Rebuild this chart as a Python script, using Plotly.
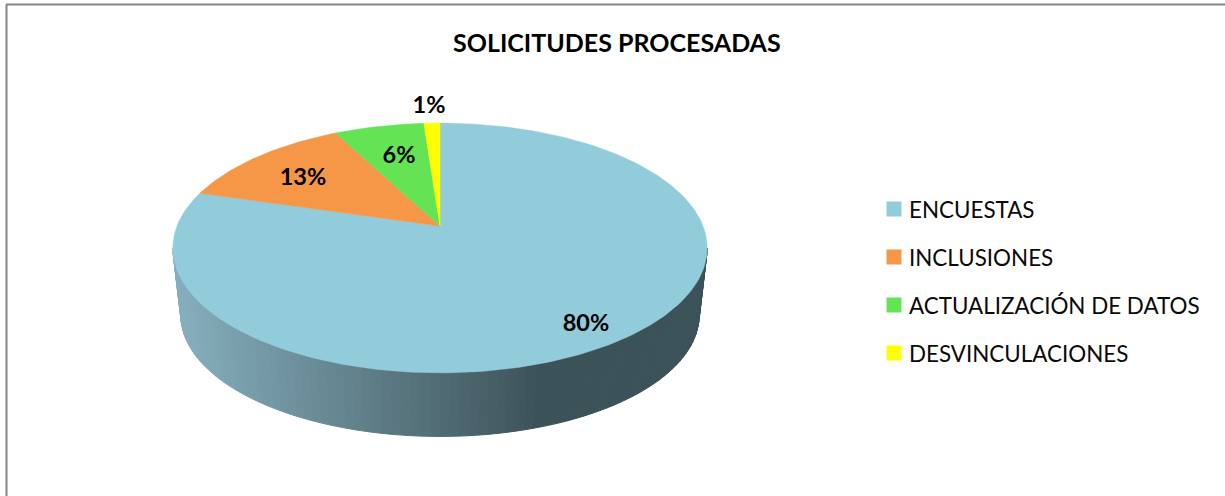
import numpy as np
import plotly.graph_objects as go

categories = ["ENCUESTAS", "INCLUSIONES", "ACTUALIZACIÓN DE DATOS", "DESVINCULACIONES"]
values = [79.6, 12.8, 6.45, 1.15]
colors = ["#92CBDA", "#F59747", "#64E455", "#FFFF00"]
title = "SOLICITUDES PROCESADAS"

# Layout / projection parameters (pixel space)
CX, CY = 440, 226
A, B, K = 263, 121, 0.176
DEPTH, RIM = 68, 0.97
FONT = "Lato"
label_pos = [(586, 325), (303, 179), (399, 157), (429, 107)]
legend_y = [209, 257, 305, 353]
legend_x, legend_tx = 894, 908
side_light, side_dark = (135, 176, 190), (60, 82, 89)
side_x0, side_x1 = 175, 540


def project(t, scale=1.0, dy=0.0):
    u, v = np.sin(t), np.cos(t)
    d = 1 + K * v
    return CX + scale * A * u / d, CY + dy + scale * B * v * -1 / d


fig = go.Figure()

# Side wall, built as narrow strips that darken left to right
t0 = np.arccos(-K)
edges = np.linspace(2 * np.pi - t0, t0, 91)
for a, b in zip(edges[:-1], edges[1:]):
    ts = np.linspace(a, b, 4)
    x1, y1 = project(ts)
    x2, y2 = project(ts[::-1], RIM, DEPTH)
    xm = (x1.mean() + x2.mean()) / 2
    f = float(np.clip((xm - side_x0) / (side_x1 - side_x0), 0, 1))
    r, g, bl = [int(round(p + (q - p) * f)) for p, q in zip(side_light, side_dark)]
    col = f"rgb({r},{g},{bl})"
    fig.add_trace(go.Scatter(
        x=np.r_[x1, x2, x1[0]], y=np.r_[y1, y2, y1[0]], mode="lines", fill="toself",
        fillcolor=col, line=dict(color=col, width=1), hoverinfo="skip", showlegend=False))

# Top face slices from the values
total = sum(values)
start = 0.0
for name, val, col in zip(categories, values, colors):
    end = start + val / total * 2 * np.pi
    ts = np.linspace(start, end, max(6, int(val * 4)))
    x, y = project(ts)
    fig.add_trace(go.Scatter(
        x=np.r_[CX, x, CX], y=np.r_[CY, y, CY], mode="lines", fill="toself",
        fillcolor=col, line=dict(color=col, width=0.5), name=name,
        hovertemplate=f"{name}: {val / total:.0%}<extra></extra>", showlegend=False))
    start = end

# Data labels
fig.add_trace(go.Scatter(
    x=[p[0] for p in label_pos], y=[p[1] for p in label_pos], mode="text",
    text=[f"{round(v / total * 100)}%" for v in values],
    textposition="middle center",
    textfont=dict(family=FONT, size=23.5, color="#000000", weight="bold"),
    hoverinfo="skip", showlegend=False))

# Legend
for name, col, ly in zip(categories, colors, legend_y):
    fig.add_trace(go.Scatter(
        x=[legend_x], y=[ly], mode="markers",
        marker=dict(symbol="square", size=15, color=col, line=dict(width=0)),
        hoverinfo="skip", showlegend=False))
    fig.add_annotation(x=legend_tx, y=ly, text=name, showarrow=False, xanchor="left",
                       yanchor="middle", xshift=-1,
                       font=dict(family=FONT, size=22.4, color="#0A0A0A"))

fig.add_annotation(x=617, y=42, text=title, showarrow=False,
                   font=dict(family=FONT, size=25, color="#000000", weight="bold"))

# Chart frame
fig.add_shape(type="line", x0=6.5, x1=6.5, y0=4.5, y1=496, line=dict(color="#868686", width=2))
fig.add_shape(type="line", x0=6, x1=1225, y0=4.5, y1=4.5, line=dict(color="#868686", width=2))

fig.update_layout(
    width=1225, height=496, margin=dict(l=0, r=0, t=0, b=0),
    paper_bgcolor="white", plot_bgcolor="white", showlegend=False,
    xaxis=dict(range=[0, 1225], visible=False, fixedrange=True),
    yaxis=dict(range=[496, 0], visible=False, fixedrange=True),
)
fig.write_html("out.html", config={"displayModeBar": False},
               post_script="document.body.style.margin='0';document.body.style.overflow='hidden';")
